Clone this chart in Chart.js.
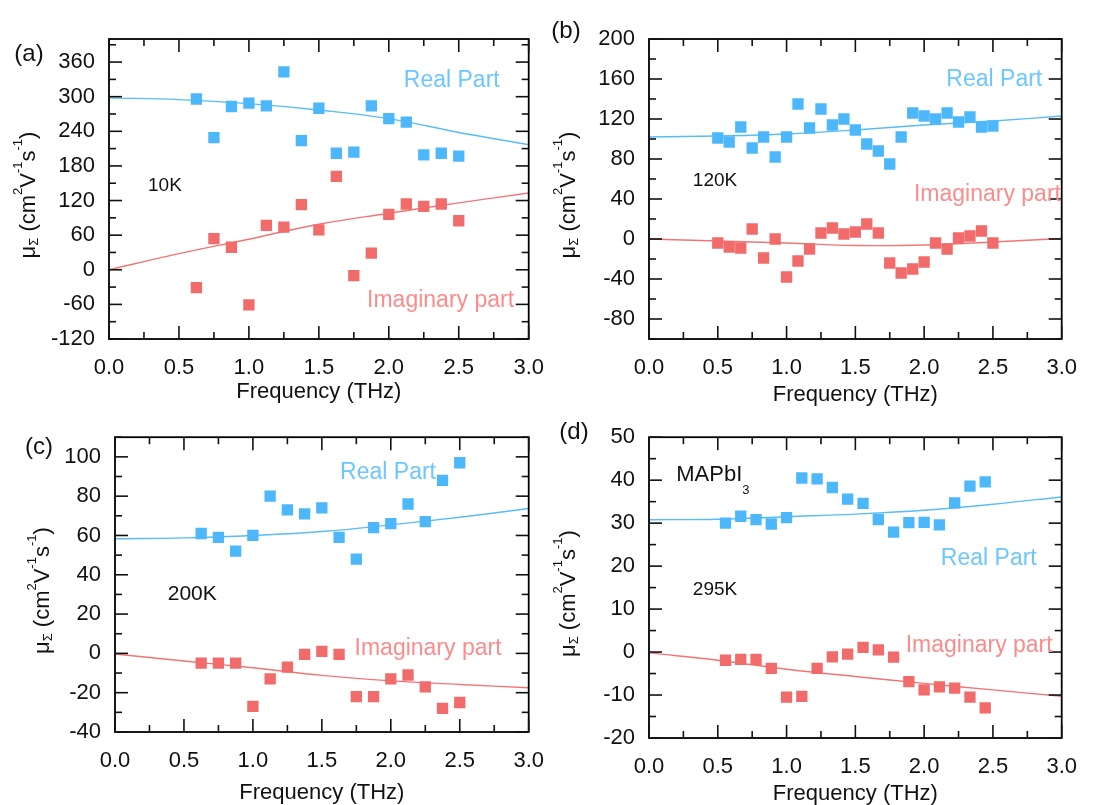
<!DOCTYPE html>
<html>
<head>
<meta charset="utf-8">
<script src="https://cdn.jsdelivr.net/npm/chart.js@4.4.1/dist/chart.umd.min.js"></script>
<style>
  html, body { margin: 0; padding: 0; background: #fff; }
  #wrap { position: relative; width: 1093px; height: 805px; overflow: hidden; }
  canvas { position: absolute; }
</style>
</head>
<body>
<div id="wrap">
  <canvas id="chartA"></canvas>
  <canvas id="chartB"></canvas>
  <canvas id="chartC"></canvas>
  <canvas id="chartD"></canvas>
</div>
<script>
const fitFreq = [0, 0.5, 1.0, 1.5, 2.0, 2.5, 3.0];

// (a) 10K
const freqA = [0.625, 0.75, 0.875, 1.0, 1.125, 1.25, 1.375, 1.5, 1.625, 1.75, 1.875, 2.0, 2.125, 2.25, 2.375, 2.5];
const realA = [296, 229, 283, 289, 284, 343, 224, 280, 202, 204, 284, 262, 256, 199, 202, 197];
const imagA = [-31, 54, 39, -61, 77, 74, 113, 69, 162, -10, 29, 96, 114, 110, 114, 85];
const fitRealA = [298, 295, 288, 277, 262, 238, 217];
const fitImagA = [0, 28, 53, 79, 98, 116, 133];

// (b) 120K
const freqB = [0.5, 0.583, 0.667, 0.75, 0.833, 0.917, 1.0, 1.083, 1.167, 1.25, 1.333, 1.417, 1.5,
               1.583, 1.667, 1.75, 1.833, 1.917, 2.0, 2.083, 2.167, 2.25, 2.333, 2.417, 2.5];
const realB = [101, 97, 112, 91, 102, 82, 102, 135, 111, 130, 114, 120, 109,
               95, 88, 75, 102, 126, 123, 120, 126, 117, 122, 112, 113];
const imagB = [-4, -8, -9, 10, -19, 0, -38, -22, -10, 6, 11, 5, 7,
               15, 6, -24, -34, -30, -23, -4, -10, 1, 3, 8, -4];
const fitRealB = [102, 103, 105, 109, 114, 118, 123];
const fitImagB = [0, -2, -4, -6.5, -6, -3, 0.5];

// (c) 200K
const freqC = [0.625, 0.75, 0.875, 1.0, 1.125, 1.25, 1.375, 1.5, 1.625, 1.75, 1.875, 2.0, 2.125, 2.25, 2.375, 2.5];
const realC = [61, 59, 52, 60, 80, 73, 71, 74, 59, 48, 64, 66, 76, 67, 88, 97];
const imagC = [-5, -5, -5, -27, -13, -7, -0.5, 1, -0.5, -22, -22, -13, -11, -17, -28, -25];
const fitRealC = [58.3, 58.8, 60, 62, 65.4, 69.3, 73.7];
const fitImagC = [-0.3, -3.9, -7.3, -11.2, -14, -15.8, -17.5];

// (d) 295K
const freqD = [0.556, 0.667, 0.778, 0.889, 1.0, 1.111, 1.222, 1.333, 1.444, 1.556, 1.667, 1.778,
               1.889, 2.0, 2.111, 2.222, 2.333, 2.444];
const realD = [30, 31.6, 30.8, 29.8, 31.3, 40.5, 40.3, 38.3, 35.6, 34.6, 30.8, 27.9,
               30.1, 30.2, 29.6, 34.7, 38.6, 39.6];
const imagD = [-1.9, -1.7, -1.7, -3.8, -10.5, -10.3, -3.8, -1.1, -0.5, 1.1, 0.5, -1.2,
               -6.9, -8.8, -8.1, -8.4, -10.5, -13];
const fitRealD = [30.8, 30.9, 31.5, 32.1, 33, 34.4, 36.1];
const fitImagD = [-0.2, -1.9, -4, -5.7, -7.3, -8.8, -10.3];

const FONT = "'Liberation Sans', Arial, sans-serif";
const axisColor = '#000';
const tickColor = '#111';
const realColor = '#4cb8fb';
const imagColor = '#f26b6b';
const realLine = '#58bdf5';
const imagLine = '#f07575';
const realText = '#6cc6ff';
const imagText = '#fa8c8c';

const panels = [
  { id: 'chartA', box: [0, 0, 560, 410], area: [109, 39, 533, 339],
    yMin: -120, yMax: 400, yStep: 60, yMinor: 30, titleH: 64, yTitleOff: 74,
    freq: freqA, real: realA, imag: imagA, fitReal: fitRealA, fitImag: fitImagA,
    label: '(a)', labelPos: [29, 54],
    notes: [
      { text: 'Real Part', x: 2.45, y: 328, color: realText, size: 23 },
      { text: 'Imaginary part', x: 2.37, y: -54, color: imagText, size: 23 },
      { text: '10K', x: 0.40, y: 145, color: '#111', size: 19 }
    ] },
  { id: 'chartB', box: [540, 0, 553, 410], area: [649, 39, 1073, 339],
    yMin: -100, yMax: 200, yStep: 40, yMinor: 20, titleH: 67, yTitleOff: 74,
    freq: freqB, real: realB, imag: imagB, fitReal: fitRealB, fitImag: fitImagB,
    label: '(b)', labelPos: [566, 31],
    notes: [
      { text: 'Real Part', x: 2.51, y: 159, color: realText, size: 23 },
      { text: 'Imaginary part', x: 2.46, y: 44.5, color: imagText, size: 23 },
      { text: '120K', x: 0.48, y: 58.5, color: '#111', size: 19 }
    ] },
  { id: 'chartC', box: [0, 410, 560, 395], area: [115, 437, 534, 732],
    yMin: -40, yMax: 110, yStep: 20, yMinor: 10, titleH: 72, yTitleOff: 66,
    freq: freqC, real: realC, imag: imagC, fitReal: fitRealC, fitImag: fitImagC,
    label: '(c)', labelPos: [39, 447],
    notes: [
      { text: 'Real Part', x: 1.98, y: 92, color: realText, size: 23 },
      { text: 'Imaginary part', x: 2.27, y: 2.4, color: imagText, size: 23 },
      { text: '200K', x: 0.56, y: 30.3, color: '#111', size: 21 }
    ] },
  { id: 'chartD', box: [540, 410, 553, 395], area: [649, 436, 1073, 738],
    yMin: -20, yMax: 50, yStep: 10, yMinor: 5, titleH: 67, yTitleOff: 74,
    freq: freqD, real: realD, imag: imagD, fitReal: fitRealD, fitImag: fitImagD,
    label: '(d)', labelPos: [574, 432],
    notes: [
      { text: 'Real Part', x: 2.47, y: 21.7, color: realText, size: 23 },
      { text: 'Imaginary part', x: 2.40, y: 1.4, color: imagText, size: 23 },
      { text: '295K', x: 0.48, y: 14.6, color: '#111', size: 19 }
    ],
    compound: { x: 0.198, y: 41.6 } }
];

function toPoints(xs, ys) {
  return xs.map((x, i) => ({ x: x, y: ys[i] }));
}

// draws pieces of text one after another along the baseline, each with its own size / shift
function drawRich(ctx, parts, x, y, align) {
  let total = 0;
  parts.forEach(p => {
    ctx.font = p.size + 'px ' + FONT;
    p.w = ctx.measureText(p.t).width;
    total += p.w;
  });
  let cx = align === 'center' ? x - total / 2 : x;
  ctx.textAlign = 'left';
  ctx.textBaseline = 'alphabetic';
  parts.forEach(p => {
    ctx.font = p.size + 'px ' + FONT;
    ctx.fillText(p.t, cx, y + (p.dy || 0));
    cx += p.w;
  });
}

function tickLine(ctx, x1, y1, x2, y2) {
  ctx.beginPath();
  ctx.moveTo(x1, y1);
  ctx.lineTo(x2, y2);
  ctx.stroke();
}

function makeFrame(panel) {
  return {
    id: 'frame' + panel.id,
    afterDraw(chart) {
      const ctx = chart.ctx;
      const xs = chart.scales.x, ys = chart.scales.y;
      const { left, right, top, bottom } = chart.chartArea;
      ctx.save();

      // box
      ctx.strokeStyle = axisColor;
      ctx.lineWidth = 1.8;
      ctx.strokeRect(left, top, right - left, bottom - top);

      // inward ticks on all four sides
      ctx.strokeStyle = tickColor;
      ctx.lineWidth = 1.6;
      for (let v = 0; v <= 3.0001; v += 0.25) {
        const px = xs.getPixelForValue(v);
        const major = Math.abs(v / 0.5 - Math.round(v / 0.5)) < 1e-6;
        const len = major ? 13 : 7;
        tickLine(ctx, px, bottom, px, bottom - len);
        tickLine(ctx, px, top, px, top + len);
      }
      const start = Math.ceil(panel.yMin / panel.yMinor) * panel.yMinor;
      for (let v = start; v <= panel.yMax + 1e-6; v += panel.yMinor) {
        const py = ys.getPixelForValue(v);
        const major = Math.abs(v / panel.yStep - Math.round(v / panel.yStep)) < 1e-6;
        const len = major ? 13 : 7;
        tickLine(ctx, left, py, left + len, py);
        tickLine(ctx, right, py, right - len, py);
      }

      // text notes placed in data units
      ctx.textAlign = 'center';
      ctx.textBaseline = 'middle';
      panel.notes.forEach(n => {
        ctx.font = n.size + 'px ' + FONT;
        ctx.fillStyle = n.color;
        ctx.fillText(n.text, xs.getPixelForValue(n.x), ys.getPixelForValue(n.y));
      });

      if (panel.compound) {
        ctx.fillStyle = '#111';
        const bx = xs.getPixelForValue(panel.compound.x);
        const by = ys.getPixelForValue(panel.compound.y) + 8;
        drawRich(ctx, [
          { t: 'MAPbI', size: 22 },
          { t: '3', size: 13, dy: 13 }
        ], bx, by, 'left');
      }

      // panel label
      ctx.fillStyle = '#111';
      ctx.font = '24px ' + FONT;
      ctx.textAlign = 'center';
      ctx.textBaseline = 'middle';
      ctx.fillText(panel.label, panel.labelPos[0] - panel.box[0], panel.labelPos[1] - panel.box[1]);

      // y axis title, rotated
      ctx.translate(left - panel.yTitleOff, (top + bottom) / 2 + 6);
      ctx.rotate(-Math.PI / 2);
      drawRich(ctx, [
        { t: 'μ', size: 22 },
        { t: 'Σ', size: 13, dy: 3 },
        { t: ' (cm', size: 22 },
        { t: '2', size: 13, dy: -13 },
        { t: 'V', size: 22 },
        { t: '-1', size: 13, dy: -13 },
        { t: 's', size: 22 },
        { t: '-1', size: 13, dy: -13 },
        { t: ')', size: 22 }
      ], 0, 0, 'center');

      ctx.restore();
    }
  };
}

function buildPanel(panel) {
  const canvas = document.getElementById(panel.id);
  const [bx, by, bw, bh] = panel.box;
  const [L, T, R, B] = panel.area;
  canvas.width = bw;
  canvas.height = bh;
  canvas.style.left = bx + 'px';
  canvas.style.top = by + 'px';
  canvas.style.width = bw + 'px';
  canvas.style.height = bh + 'px';

  const yAxisW = 70;
  new Chart(canvas.getContext('2d'), {
    type: 'scatter',
    data: {
      datasets: [
        { label: 'Real', data: toPoints(panel.freq, panel.real), backgroundColor: realColor,
          borderWidth: 0, pointStyle: 'rect', pointRadius: 8 },
        { label: 'Imaginary', data: toPoints(panel.freq, panel.imag), backgroundColor: imagColor,
          borderWidth: 0, pointStyle: 'rect', pointRadius: 8 },
        { label: 'Real fit', data: toPoints(fitFreq, panel.fitReal), showLine: true,
          borderColor: realLine, borderWidth: 1.4, pointRadius: 0, tension: 0.4 },
        { label: 'Imaginary fit', data: toPoints(fitFreq, panel.fitImag), showLine: true,
          borderColor: imagLine, borderWidth: 1.4, pointRadius: 0, tension: 0.4 }
      ]
    },
    options: {
      responsive: false,
      animation: false,
      events: [],
      layout: {
        padding: {
          left: L - bx - yAxisW,
          top: T - by,
          right: bx + bw - R,
          bottom: by + bh - B - panel.titleH
        }
      },
      plugins: { legend: { display: false }, tooltip: { enabled: false } },
      scales: {
        x: {
          type: 'linear', min: 0, max: 3, offset: false,
          grid: { display: false, drawTicks: false },
          border: { display: false },
          ticks: {
            stepSize: 0.5, maxRotation: 0, autoSkip: false, padding: 16,
            color: '#111', font: { family: FONT, size: 22 },
            callback: v => v.toFixed(1)
          },
          title: {
            display: true, text: 'Frequency (THz)', color: '#111',
            font: { family: FONT, size: 22, lineHeight: 1 },
            padding: { top: 0, bottom: 0 }
          },
          afterFit: scale => { scale.height = panel.titleH; }
        },
        y: {
          type: 'linear', min: panel.yMin, max: panel.yMax,
          grid: { display: false, drawTicks: false },
          border: { display: false },
          ticks: {
            stepSize: panel.yStep, includeBounds: false, autoSkip: false, padding: 14,
            color: '#111', font: { family: FONT, size: 22 }
          },
          afterFit: scale => { scale.width = yAxisW; }
        }
      }
    },
    plugins: [makeFrame(panel)]
  });
}

panels.forEach(buildPanel);
</script>
</body>
</html>
